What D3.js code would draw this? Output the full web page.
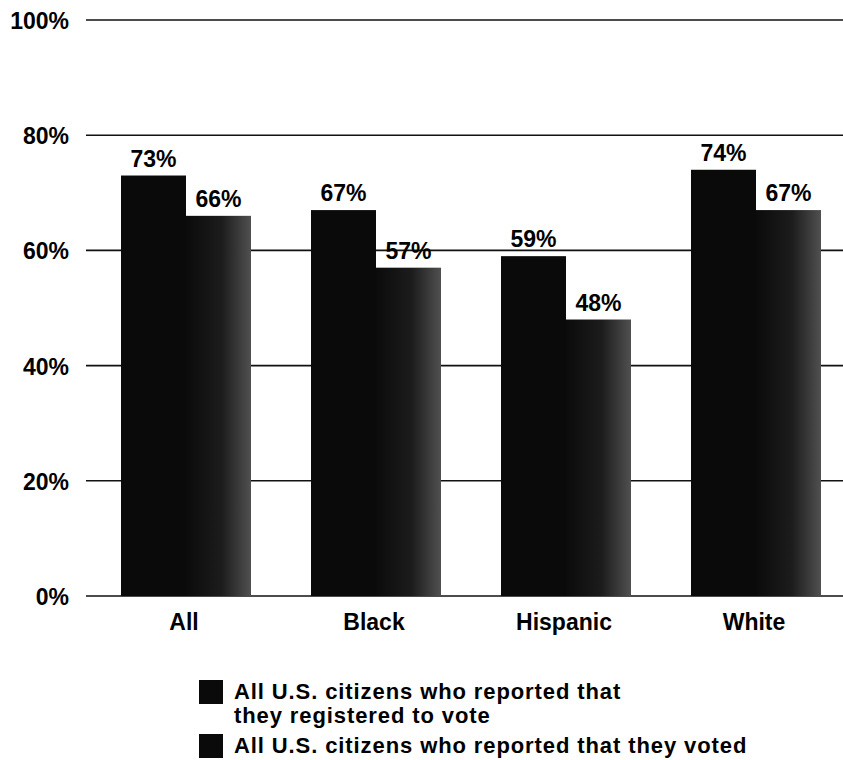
<!DOCTYPE html>
<html><head><meta charset="utf-8">
<script src="https://cdn.jsdelivr.net/npm/d3@7"></script>
<style>body{margin:0;background:#fff}svg{display:block}</style>
</head><body><svg id="c" width="843" height="760"></svg>
<script>
const categories = ["All", "Black", "Hispanic", "White"];
const registered = [73, 67, 59, 74];
const voted = [66, 57, 48, 67];
const yTicks = [0, 20, 40, 60, 80, 100];
const seriesKeys = ["registered", "voted"];
const legendLines = [["All U.S. citizens who reported that", "they registered to vote"], ["All U.S. citizens who reported that they voted"]];

const svg = d3.select("#c");
const font = "'Liberation Sans', Arial, sans-serif";
const fs = 23;
const y = d3.scaleLinear().domain([0, 100]).range([596, 20]);
const x0 = d3.scaleBand().domain(categories).range([90, 850]).padding(0);
const x1 = d3.scaleBand().domain(seriesKeys).range([31, 161]).padding(0);

const defs = svg.append("defs");
const g1 = defs.append("linearGradient").attr("id", "gv").attr("x1", 0).attr("x2", 1).attr("y1", 0).attr("y2", 0);
g1.append("stop").attr("offset", "0%").attr("stop-color", "#0b0b0b");
g1.append("stop").attr("offset", "55%").attr("stop-color", "#1c1c1c");
g1.append("stop").attr("offset", "100%").attr("stop-color", "#505050");

// gridlines
svg.append("g").selectAll("line").data(yTicks).join("line")
  .attr("x1", 86).attr("x2", 843)
  .attr("y1", d => y(d)).attr("y2", d => y(d))
  .attr("stroke", "#111").attr("stroke-width", 1.6);

// y labels
svg.append("g").selectAll("text").data(yTicks).join("text")
  .attr("x", 69).attr("y", d => y(d) + 9)
  .attr("text-anchor", "end")
  .attr("font-family", font).attr("font-weight", "bold").attr("font-size", fs)
  .attr("fill", "#000").text(d => d + "%");

const rows = categories.map((c, i) => ({cat: c, registered: registered[i], voted: voted[i]}));

const grp = svg.append("g").selectAll("g").data(rows).join("g")
  .attr("transform", d => `translate(${x0(d.cat)},0)`);

grp.selectAll("rect").data(d => seriesKeys.map(k => ({k, v: d[k]}))).join("rect")
  .attr("x", d => x1(d.k)).attr("width", x1.bandwidth())
  .attr("y", d => y(d.v)).attr("height", d => y(0) - y(d.v))
  .attr("fill", d => d.k === "registered" ? "#0a0a0a" : "url(#gv)");

grp.selectAll("text.v").data(d => seriesKeys.map(k => ({k, v: d[k]}))).join("text")
  .attr("class", "v")
  .attr("x", d => x1(d.k) + x1.bandwidth() / 2)
  .attr("y", d => y(d.v) - 9)
  .attr("text-anchor", "middle")
  .attr("font-family", font).attr("font-weight", "bold").attr("font-size", fs)
  .attr("fill", "#000").text(d => d.v + "%");

// category labels
svg.append("g").selectAll("text").data(categories).join("text")
  .attr("x", d => x0(d) + x0.bandwidth() / 2 - 1)
  .attr("y", 630)
  .attr("text-anchor", "middle")
  .attr("font-family", font).attr("font-weight", "bold").attr("font-size", fs)
  .attr("fill", "#000").text(d => d);

// legend
const lg = svg.append("g");
const legY = [680, 734];
legendLines.forEach((lines, i) => {
  lg.append("rect").attr("x", 199).attr("y", legY[i]).attr("width", 24).attr("height", 24).attr("fill", "#0a0a0a");
  lines.forEach((t, j) => {
    lg.append("text").attr("x", 234).attr("y", legY[i] + 19 + j * 24)
      .attr("font-family", font).attr("font-weight", "bold").attr("font-size", 22)
      .attr("letter-spacing", 0.9)
      .attr("fill", "#000").text(t);
  });
});
</script></body></html>
